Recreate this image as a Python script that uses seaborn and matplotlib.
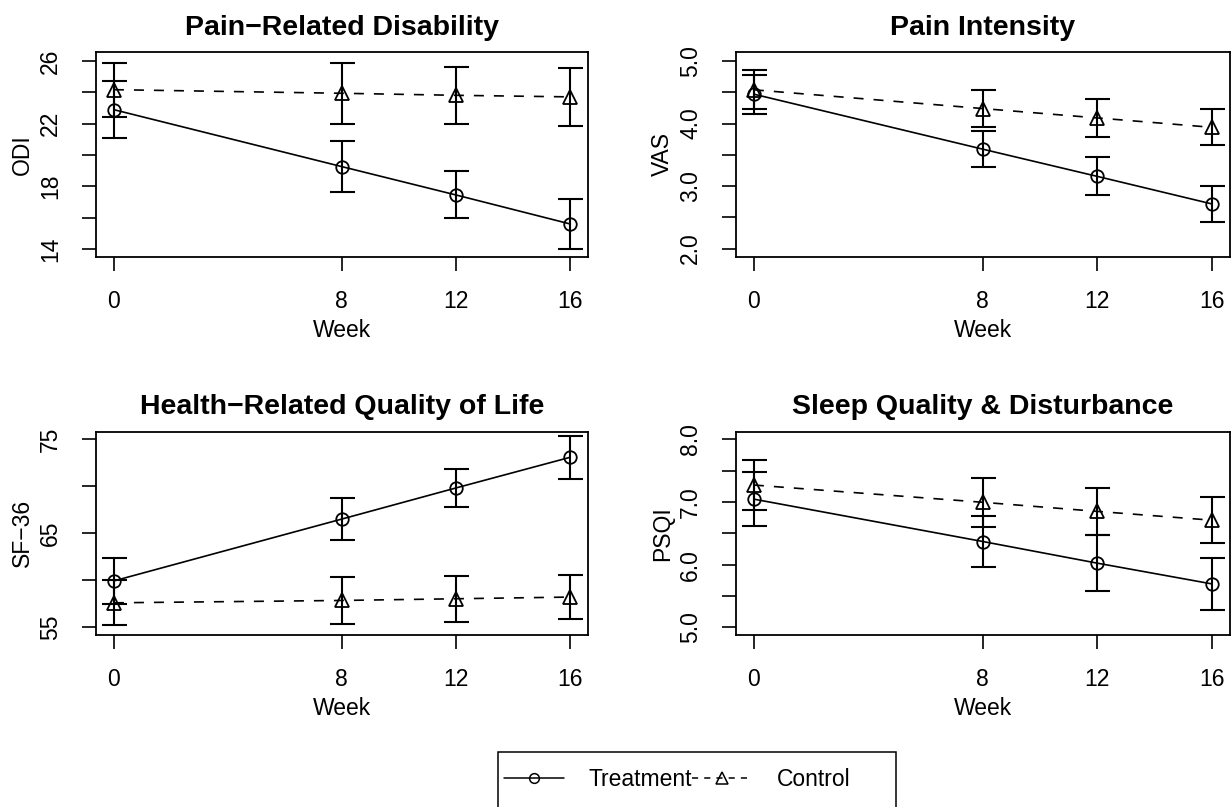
import numpy as np
import pandas as pd
import matplotlib
matplotlib.use("Agg")
import matplotlib.pyplot as plt
import seaborn as sns
from matplotlib.lines import Line2D
from matplotlib.patches import Rectangle

# ---- data ----
weeks = [0, 8, 12, 16]

odi_treat = [22.9, 19.26, 17.45, 15.6]
odi_treat_err = [1.82, 1.65, 1.5, 1.58]
odi_ctrl = [24.18, 23.95, 23.82, 23.72]
odi_ctrl_err = [1.72, 1.95, 1.82, 1.85]

vas_treat = [4.47, 3.59, 3.155, 2.715]
vas_treat_err = [0.31, 0.29, 0.305, 0.285]
vas_ctrl = [4.54, 4.24, 4.09, 3.94]
vas_ctrl_err = [0.31, 0.29, 0.30, 0.29]

sf36_treat = [59.93, 66.5, 69.8, 73.05]
sf36_treat_err = [2.45, 2.2, 2.0, 2.3]
sf36_ctrl = [57.6, 57.85, 58.03, 58.21]
sf36_ctrl_err = [2.4, 2.45, 2.43, 2.35]

psqi_treat = [7.045, 6.37, 6.025, 5.695]
psqi_treat_err = [0.435, 0.41, 0.445, 0.415]
psqi_ctrl = [7.27, 6.995, 6.85, 6.71]
psqi_ctrl_err = [0.40, 0.395, 0.38, 0.37]

panels = [
    ("Pain\u2212Related Disability", "ODI", odi_treat, odi_treat_err, odi_ctrl, odi_ctrl_err,
     (13.5, 26.57), [14, 16, 18, 20, 22, 24, 26], ["14", "", "18", "", "22", "", "26"]),
    ("Pain Intensity", "VAS", vas_treat, vas_treat_err, vas_ctrl, vas_ctrl_err,
     (1.87, 5.14), [2.0, 2.5, 3.0, 3.5, 4.0, 4.5, 5.0], ["2.0", "", "3.0", "", "4.0", "", "5.0"]),
    ("Health\u2212Related Quality of Life", "SF\u221236", sf36_treat, sf36_treat_err, sf36_ctrl, sf36_ctrl_err,
     (54.18, 75.78), [55, 60, 65, 70, 75], ["55", "", "65", "", "75"]),
    ("Sleep Quality & Disturbance", "PSQI", psqi_treat, psqi_treat_err, psqi_ctrl, psqi_ctrl_err,
     (4.88, 8.12), [5.0, 5.5, 6.0, 6.5, 7.0, 7.5, 8.0], ["5.0", "", "6.0", "", "7.0", "", "8.0"]),
]

sns.set_style("ticks")
plt.rcParams['font.family'] = ['Liberation Sans', 'DejaVu Sans']
plt.rcParams['text.color'] = 'black'
plt.rcParams['axes.labelcolor'] = 'black'

fig = plt.figure(figsize=(12.31, 8.07), dpi=100)

W, H = 1231, 807
boxes = [(95.7, 52.3, 588, 256.7), (735.6, 52.3, 1230.0, 256.7),
         (95.7, 431.7, 588, 635), (735.6, 431.7, 1230.0, 635)]

for (title, ylab, tr, tr_err, ct, ct_err, ylim, yticks, ylabels), (x0, y0, x1, y1) in zip(panels, boxes):
    ax = fig.add_axes([x0 / W, 1 - y1 / H, (x1 - x0) / W, (y1 - y0) / H])
    df = pd.DataFrame({
        "Week": weeks * 2,
        "value": tr + ct,
        "group": ["Treatment"] * 4 + ["Control"] * 4,
    })
    sns.lineplot(data=df, x="Week", y="value", style="group",
                 style_order=["Treatment", "Control"],
                 markers={"Treatment": "o", "Control": "^"},
                 dashes={"Treatment": "", "Control": (6, 6)},
                 color="black", lw=1.2, ms=9, mfc="none", mec="black", mew=1.3,
                 errorbar=None, legend=False, ax=ax)
    for line in ax.lines:
        if line.get_marker() == "^":
            line.set_markersize(10.5)
    ax.errorbar(weeks, tr, yerr=tr_err, fmt="none", ecolor="black",
                elinewidth=1.5, capsize=9, capthick=1.5)
    ax.errorbar(weeks, ct, yerr=ct_err, fmt="none", ecolor="black",
                elinewidth=1.5, capsize=9, capthick=1.5)

    ax.set_xlim(-0.64, 16.64)
    ax.set_ylim(*ylim)
    ax.set_xticks(weeks)
    ax.set_xticklabels([str(w) for w in weeks])
    ax.set_yticks(yticks)
    ax.set_yticklabels(ylabels)
    ax.tick_params(axis="both", direction="out", length=10, width=1.2,
                   labelsize=16.5, color="black", labelcolor="black")
    ax.tick_params(axis="x", pad=14)
    ax.tick_params(axis="y", pad=14, labelrotation=90)
    for lab in ax.get_yticklabels():
        lab.set_va("center")
    for s in ax.spines.values():
        s.set_visible(True)
        s.set_linewidth(1.3)
        s.set_color("black")
    ax.set_xlabel("Week", fontsize=16.5, labelpad=4)
    ax.set_ylabel(ylab, fontsize=16.5, labelpad=4)
    ax.set_title(title, fontsize=20.5, fontweight="bold", pad=12.5)
    ax.set_facecolor("white")

# legend at the bottom
handles = [
    Line2D([], [], color="black", lw=1.1, marker="o", ms=7, mfc="none", mew=1.1),
    Line2D([], [], color="black", lw=1.1, marker="^", ms=8, mfc="none", mew=1.1, dashes=(4, 4)),
]
fig.legend(handles, ["Treatment", "Control"], loc="center left",
           bbox_to_anchor=(504 / W, 1 - 780 / H), ncol=2, frameon=False,
           borderpad=0, borderaxespad=0, handlelength=2.6, handletextpad=1.1,
           columnspacing=0.0, fontsize=16.5)
fig.patches.append(Rectangle((497.7 / W, -0.01), (895.7 - 497.7) / W, (807 - 752 + 8) / H,
                             transform=fig.transFigure, facecolor="none",
                             edgecolor="black", lw=1.1, clip_on=False))

fig.savefig("out.png", dpi=100, facecolor="white")
